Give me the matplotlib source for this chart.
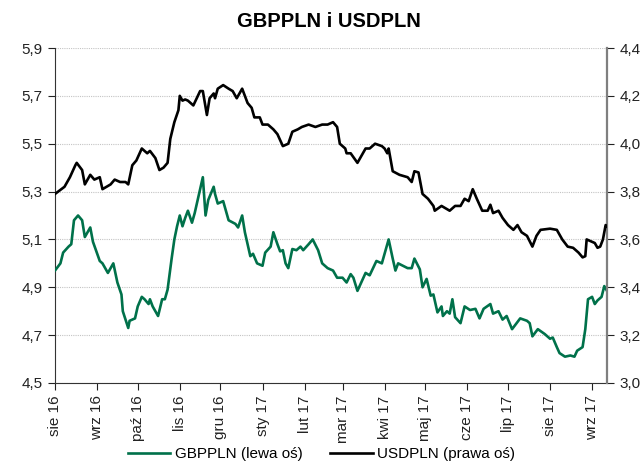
import numpy as np
import matplotlib
matplotlib.use("Agg")
import matplotlib.pyplot as plt
import matplotlib.dates as mdates
from matplotlib.ticker import FuncFormatter, MultipleLocator

plt.rcParams['font.family'] = ['Liberation Sans', 'DejaVu Sans']

start_date = np.datetime64('2016-08-01')
end_day = 407

usd_days = [0, 7, 11, 15, 16, 20, 22, 26, 29, 33, 35, 41, 44, 48, 52, 54, 57, 60, 64, 68,
            70, 74, 77, 80, 83, 85, 88, 91, 92, 94, 96, 98, 102, 107, 109, 112, 114, 117, 118, 120,
            124, 128, 131, 134, 138, 142, 145, 147, 151, 153, 157, 161, 164, 168, 172, 175, 179, 182, 187, 192,
            197, 201, 203, 205, 208, 210, 214, 215, 218, 223, 229, 232, 236, 241, 243, 245, 246, 249, 254, 260,
            263, 265, 268, 271, 275, 279, 280, 285, 291, 295, 299, 302, 305, 308, 311, 315, 319, 321, 323, 327,
            330, 334, 336, 338, 341, 344, 348, 352, 355, 358, 365, 370, 374, 378, 382, 386, 389, 391, 392, 396,
            398, 400, 402, 404, 406, 407]
usd_vals = [3.79, 3.82, 3.86, 3.91, 3.92, 3.89, 3.83, 3.87, 3.85, 3.86, 3.81, 3.83, 3.85, 3.84, 3.84, 3.83, 3.91, 3.93, 3.98, 3.96,
            3.97, 3.94, 3.89, 3.90, 3.92, 4.02, 4.09, 4.14, 4.20, 4.18, 4.185, 4.18, 4.16, 4.22, 4.22, 4.12, 4.19, 4.21, 4.19, 4.23,
            4.245, 4.23, 4.22, 4.19, 4.23, 4.17, 4.15, 4.11, 4.11, 4.08, 4.08, 4.06, 4.04, 3.99, 4.00, 4.05, 4.06, 4.07, 4.08, 4.07,
            4.08, 4.08, 4.085, 4.09, 4.07, 4.00, 3.98, 3.96, 3.96, 3.92, 3.98, 3.98, 4.00, 3.99, 3.98, 3.96, 3.98, 3.885, 3.87, 3.86,
            3.84, 3.885, 3.88, 3.79, 3.77, 3.74, 3.72, 3.74, 3.72, 3.74, 3.74, 3.77, 3.76, 3.81, 3.77, 3.72, 3.72, 3.745, 3.71, 3.72,
            3.69, 3.66, 3.65, 3.64, 3.66, 3.63, 3.615, 3.57, 3.615, 3.64, 3.645, 3.64, 3.60, 3.57, 3.565, 3.545, 3.525, 3.53, 3.60, 3.59,
            3.585, 3.565, 3.57, 3.60, 3.66, 3.655]

gbp_days = [0, 4, 6, 10, 12, 14, 17, 20, 22, 24, 26, 28, 33, 35, 39, 43, 46, 49, 50, 54,
            55, 59, 61, 64, 66, 69, 70, 72, 76, 79, 81, 83, 86, 88, 90, 92, 94, 96, 98, 101,
            103, 107, 109, 111, 113, 117, 118, 120, 124, 128, 133, 135, 138, 140, 144, 146, 149, 153, 155, 159,
            161, 164, 166, 168, 170, 172, 175, 178, 181, 183, 187, 190, 194, 197, 199, 201, 205, 208, 212, 215,
            218, 220, 223, 229, 232, 237, 241, 243, 246, 249, 251, 253, 260, 263, 265, 269, 271, 274, 277, 279,
            282, 285, 286, 289, 291, 293, 295, 299, 302, 306, 310, 313, 316, 321, 323, 327, 330, 333, 337, 343,
            348, 350, 352, 356, 361, 365, 367, 370, 372, 376, 380, 383, 385, 389, 391, 393, 396, 398, 400, 403,
            405, 407]
gbp_vals = [4.97, 5.00, 5.045, 5.07, 5.08, 5.18, 5.20, 5.18, 5.11, 5.13, 5.15, 5.09, 5.01, 5.00, 4.96, 5.00, 4.92, 4.87, 4.80, 4.73,
            4.76, 4.77, 4.82, 4.86, 4.85, 4.83, 4.85, 4.82, 4.78, 4.85, 4.85, 4.89, 5.02, 5.10, 5.155, 5.20, 5.155, 5.19, 5.22, 5.17,
            5.21, 5.31, 5.36, 5.20, 5.265, 5.32, 5.29, 5.25, 5.26, 5.18, 5.165, 5.15, 5.20, 5.13, 5.03, 5.04, 5.00, 4.99, 5.045, 5.07,
            5.13, 5.08, 5.05, 5.055, 5.00, 4.98, 5.06, 5.055, 5.07, 5.055, 5.08, 5.10, 5.055, 5.00, 4.99, 4.98, 4.97, 4.94, 4.94, 4.92,
            4.955, 4.94, 4.885, 4.96, 4.95, 5.01, 5.00, 5.04, 5.10, 5.02, 4.97, 5.00, 4.98, 4.98, 5.02, 4.975, 4.90, 4.935, 4.865, 4.87,
            4.795, 4.82, 4.78, 4.80, 4.79, 4.85, 4.775, 4.75, 4.82, 4.805, 4.81, 4.77, 4.81, 4.83, 4.79, 4.80, 4.765, 4.78, 4.725, 4.77,
            4.76, 4.75, 4.695, 4.725, 4.705, 4.685, 4.69, 4.65, 4.625, 4.61, 4.615, 4.61, 4.635, 4.65, 4.725, 4.85, 4.86, 4.83, 4.845, 4.86,
            4.905, 4.885]

month_names = {1: 'sty', 2: 'lut', 3: 'mar', 4: 'kwi', 5: 'maj', 6: 'cze',
               7: 'lip', 8: 'sie', 9: 'wrz', 10: 'paź', 11: 'lis', 12: 'gru'}

title = 'GBPPLN i USDPLN'
gbp_label = 'GBPPLN (lewa oś)'
usd_label = 'USDPLN (prawa oś)'

green = '#00714A'

usd_dates = start_date + np.array(usd_days).astype('timedelta64[D]')
gbp_dates = start_date + np.array(gbp_days).astype('timedelta64[D]')

fig = plt.figure(figsize=(6.43, 4.67), dpi=100)
ax = fig.add_axes([55/643, 1-383/467, (607-55)/643, (383-48)/467])
ax2 = ax.twinx()

ax.set_ylim(4.5, 5.9)
ax2.set_ylim(3.0, 4.4)
ax.set_yticks(np.arange(4.5, 5.91, 0.2))
ax2.set_yticks(np.arange(3.0, 4.41, 0.2))
fmt = FuncFormatter(lambda v, p: f'{v:.1f}'.replace('.', ','))
ax.yaxis.set_major_formatter(fmt)
ax2.yaxis.set_major_formatter(fmt)

ax.grid(axis='y', color='#c4c4c4', linestyle=(0, (1, 1)), linewidth=0.8)
ax.set_axisbelow(True)

l1, = ax.plot(gbp_dates, gbp_vals, color=green, linewidth=1.9, label=gbp_label, zorder=3)
l2, = ax2.plot(usd_dates, usd_vals, color='black', linewidth=1.9, label=usd_label, zorder=3)

ax.set_xlim(start_date, start_date + np.timedelta64(end_day, 'D'))
ax.xaxis.set_major_locator(mdates.MonthLocator())
ax.xaxis.set_major_formatter(FuncFormatter(
    lambda v, p: f"{month_names[mdates.num2date(v).month]} {mdates.num2date(v).year % 100:02d}"))
for lbl in ax.get_xticklabels():
    lbl.set_rotation(90)

for a in (ax, ax2):
    a.spines['top'].set_visible(False)
ax.spines['left'].set_color('#333333')
ax.spines['bottom'].set_color('#333333')
ax.spines['right'].set_visible(False)
ax2.spines['left'].set_visible(False)
ax2.spines['bottom'].set_visible(False)
ax2.spines['right'].set_color('#7f7f7f')
ax2.spines['right'].set_linewidth(1.6)

ax.tick_params(axis='y', direction='out', length=5, labelsize=11, colors='#222222', pad=4)
ax.tick_params(axis='x', direction='out', length=5, labelsize=11, colors='#222222', pad=4)
ax2.tick_params(axis='y', direction='out', length=5, labelsize=11, colors='#222222', pad=4)

fig.text(0.512, 0.955, title, ha='center', va='center', fontsize=14.5, fontweight='bold')

fig.legend([l1, l2], [gbp_label, usd_label], loc='center', bbox_to_anchor=(0.5, 0.028),
           ncol=2, frameon=False, fontsize=11, handlelength=2.8, columnspacing=1.8, handletextpad=0.3)

fig.savefig('out.png', dpi=100)
